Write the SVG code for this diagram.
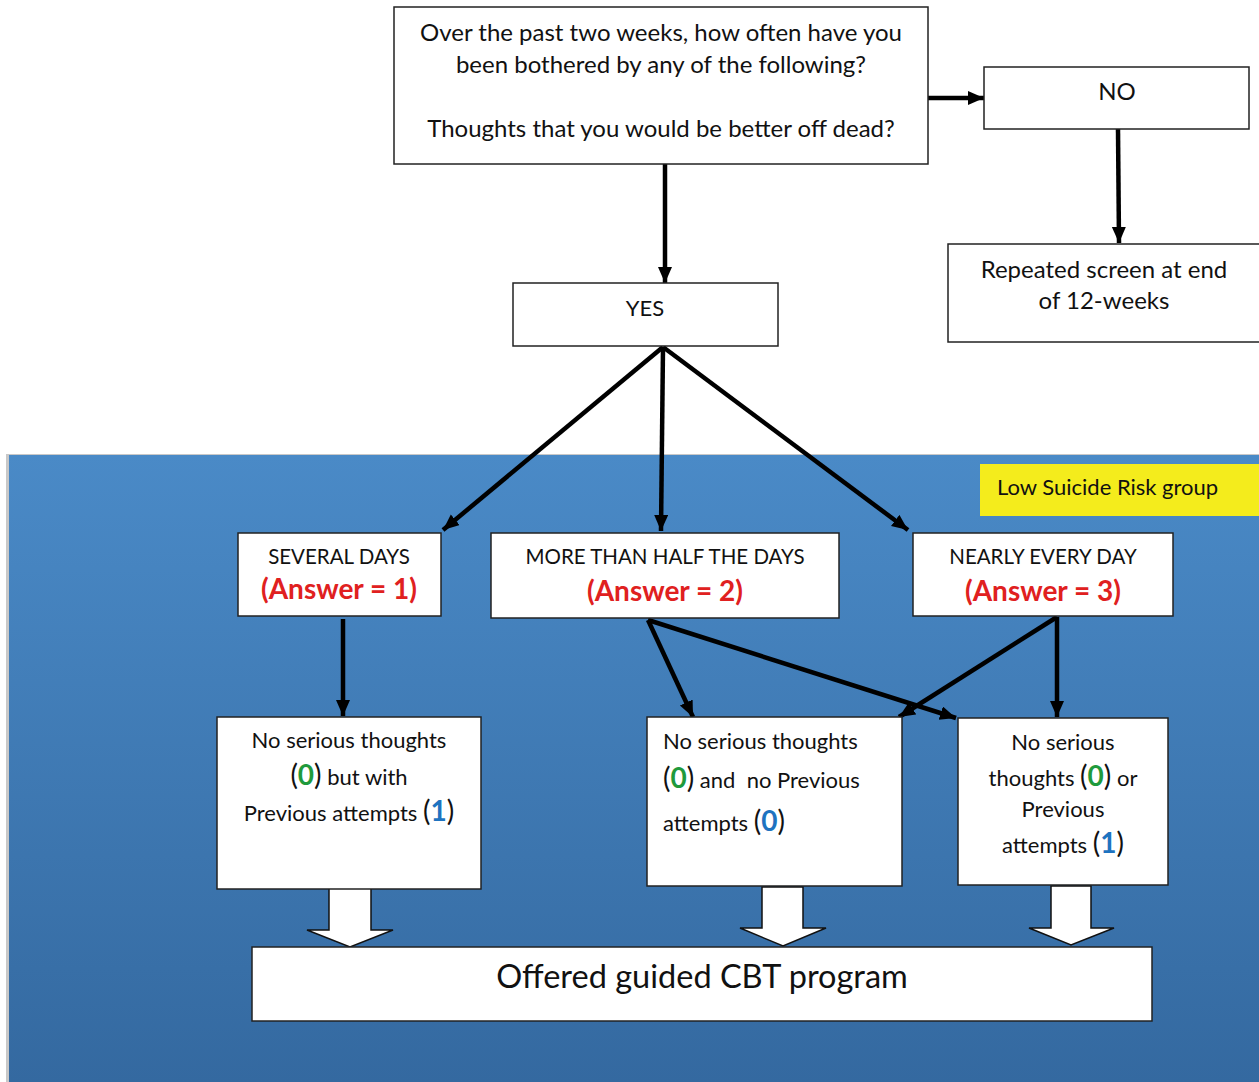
<svg xmlns="http://www.w3.org/2000/svg" width="1259" height="1082" viewBox="0 0 1259 1082">
<style>
.box{fill:#fff;stroke:#222;stroke-width:1.5}
.t{font-family:Lato,"Open Sans","Liberation Sans",sans-serif;fill:#111;text-anchor:middle}
.q{font-size:24px}
.h{font-size:20.5px}
.red{font-size:28px;font-weight:bold;fill:#e02020}
.n{font-size:22px}
.g{fill:#1f9a3c;font-weight:bold;font-size:28px}
.b{fill:#1e73c0;font-weight:bold;font-size:28px}
.p{font-size:28px}
.conn{stroke:#000;stroke-width:4.5;fill:none;marker-end:url(#ah)}
.blk{fill:#fff;stroke:#111;stroke-width:1.5;stroke-linejoin:miter}
</style>
<defs>
<linearGradient id="bg" x1="0" y1="0" x2="0" y2="1">
<stop offset="0" stop-color="#4a8ac7"/>
<stop offset="1" stop-color="#3469a0"/>
</linearGradient>
<marker id="ah" markerUnits="userSpaceOnUse" markerWidth="18" markerHeight="16" refX="16" refY="7" orient="auto">
<path d="M0,0 L16,7 L0,14 Z" fill="#000"/>
</marker>
</defs>
<rect width="1259" height="1082" fill="#fff"/>
<rect x="6" y="454" width="1253" height="628" fill="#c8c8c8"/>
<rect x="9" y="455" width="1250" height="627" fill="url(#bg)"/>

<g id="yellow-label">
<rect x="980" y="464" width="279" height="52" fill="#f4ec1c"/>
<text x="997" y="495" class="t n" style="text-anchor:start">Low Suicide Risk group</text>
</g>

<g id="connectors">
<path class="conn" d="M928,98 L984,98"/>
<path class="conn" d="M1118,129 L1119,243"/>
<path class="conn" d="M665,164 L665,283"/>
<path class="conn" d="M663,347 L443,530"/>
<path class="conn" d="M663,347 L661,531"/>
<path class="conn" d="M663,347 L908,530"/>
<path class="conn" d="M343,619 L343,716"/>
<path class="conn" d="M648,620 L693,717"/>
<path class="conn" d="M648,620 L956,718"/>
<path class="conn" d="M1057,617 L899,717"/>
<path class="conn" d="M1057,617 L1057,717"/>
<path class="blk" d="M329,888 L371,888 L371,930 L393,930 L350,947 L307,930 L329,930 Z"/>
<path class="blk" d="M762,887 L803,887 L803,928 L826,928 L783,946 L740,928 L762,928 Z"/>
<path class="blk" d="M1051,886 L1091,886 L1091,928 L1114,928 L1071,945 L1029,928 L1051,928 Z"/>
</g>

<g id="question">
<rect class="box" x="394" y="7" width="534" height="157"/>
<text class="t q" x="661" y="41">Over the past two weeks, how often have you</text>
<text class="t q" x="661" y="73">been bothered by any of the following?</text>
<text class="t q" x="661" y="137">Thoughts that you would be better off dead?</text>
</g>

<g id="no">
<rect class="box" x="984" y="67" width="265" height="62"/>
<text class="t q" x="1117" y="100">NO</text>
</g>

<g id="repeat">
<rect class="box" x="948" y="244" width="315" height="98"/>
<text class="t q" x="1104" y="278">Repeated screen at end</text>
<text class="t q" x="1104" y="309">of 12-weeks</text>
</g>

<g id="yes">
<rect class="box" x="513" y="283" width="265" height="63"/>
<text class="t n" x="645" y="316">YES</text>
</g>

<g id="several">
<rect class="box" x="238" y="533" width="203" height="83"/>
<text class="t h" x="339" y="564">SEVERAL DAYS</text>
<text class="t red" x="339" y="599">(Answer = 1)</text>
</g>

<g id="more-than-half">
<rect class="box" x="491" y="533" width="348" height="85"/>
<text class="t h" x="665" y="564">MORE THAN HALF THE DAYS</text>
<text class="t red" x="665" y="601">(Answer = 2)</text>
</g>

<g id="nearly">
<rect class="box" x="913" y="533" width="260" height="83"/>
<text class="t h" x="1043" y="564">NEARLY EVERY DAY</text>
<text class="t red" x="1043" y="601">(Answer = 3)</text>
</g>

<g id="left-outcome">
<rect class="box" x="217" y="717" width="264" height="172"/>
<text class="t n" x="349" y="748">No serious thoughts</text>
<text class="t n" x="349" y="785"><tspan class="p">(</tspan><tspan class="g">0</tspan><tspan class="p">)</tspan> but with</text>
<text class="t n" x="349" y="821">Previous attempts <tspan class="p">(</tspan><tspan class="b">1</tspan><tspan class="p">)</tspan></text>
</g>

<g id="mid-outcome">
<rect class="box" x="647" y="717" width="255" height="169"/>
<text class="t n" x="663" y="749" style="text-anchor:start">No serious thoughts</text>
<text class="t n" x="663" y="788" style="text-anchor:start"><tspan class="p">(</tspan><tspan class="g">0</tspan><tspan class="p">)</tspan> and &#160;no Previous</text>
<text class="t n" x="663" y="831" style="text-anchor:start">attempts <tspan class="p">(</tspan><tspan class="b">0</tspan><tspan class="p">)</tspan></text>
</g>

<g id="right-outcome">
<rect class="box" x="958" y="718" width="210" height="167"/>
<text class="t n" x="1063" y="750">No serious</text>
<text class="t n" x="1063" y="786">thoughts <tspan class="p">(</tspan><tspan class="g">0</tspan><tspan class="p">)</tspan> or</text>
<text class="t n" x="1063" y="817">Previous</text>
<text class="t n" x="1063" y="853">attempts <tspan class="p">(</tspan><tspan class="b">1</tspan><tspan class="p">)</tspan></text>
</g>

<g id="cbt">
<rect class="box" x="252" y="947" width="900" height="74"/>
<text class="t" x="702" y="988" style="font-size:32.5px">Offered guided CBT program</text>
</g>
</svg>
